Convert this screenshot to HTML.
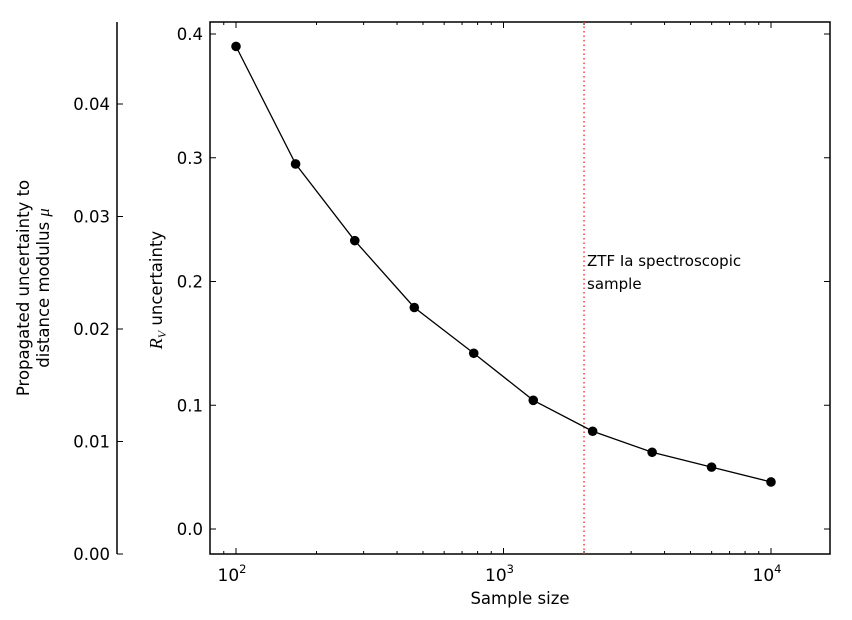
<!DOCTYPE html>
<html><head><meta charset="utf-8"><style>
html,body{margin:0;padding:0;background:#fff;}
svg{display:block;font-family:"DejaVu Sans","Liberation Sans",sans-serif;}
</style></head><body>
<svg id="chart" width="852" height="620" viewBox="0 0 852 620">
<g id="plot"></g>
</svg>
<script>
const sampleSizes=[100,167,278,464,774,1292,2154,3594,5995,10000];
const rvUncertainty=[0.390,0.295,0.233,0.179,0.142,0.104,0.079,0.062,0.050,0.038];
const rvTicks=[0.0,0.1,0.2,0.3,0.4];
const rvTickLabels=["0.0","0.1","0.2","0.3","0.4"];
const muTicks=[0,0.01,0.02,0.03,0.04];
const muTickLabels=["0.00","0.01","0.02","0.03","0.04"];
const xDecades=[2,3,4];
const ztfSample=[2000];

const NS="http://www.w3.org/2000/svg";
const g=document.getElementById('plot');
const L=210,R=830,T=22,B=554;
const x=v=>236+(Math.log10(v)-2)*267.5;
const y=v=>529-v*1237.5;
const ymu=v=>554-v*11250;
function mk(tag,attrs,parent){const e=document.createElementNS(NS,tag);for(const k in attrs)e.setAttribute(k,attrs[k]);(parent||g).appendChild(e);return e;}

const la=mk('g',{});


mk('line',{x1:117,y1:T,x2:117,y2:B,stroke:'#000','stroke-width':1.5},la);
muTicks.forEach((t,i)=>{
 const yy=ymu(t);
 mk('line',{x1:117,y1:yy,x2:123,y2:yy,stroke:'#000'},la);
 const tx=mk('text',{x:110,y:yy+6,'text-anchor':'end','font-size':16.5},la);
 tx.textContent=muTickLabels[i];
 
 
});
const mt=mk('text',{transform:'translate(38,288) rotate(-90)','text-anchor':'middle','font-size':16.5});


mt.innerHTML='<tspan x="0" dy="-9">Propagated uncertainty to</tspan><tspan x="0" dy="20">distance modulus <tspan font-style="italic" font-family="Liberation Serif">μ</tspan></tspan>';

const fr=mk('rect',{x:L,y:T,width:R-L,height:B-T,fill:'none',stroke:'#000','stroke-width':1.5});



rvTicks.forEach((t,i)=>{
 const yy=y(t);
 mk('line',{x1:L,y1:yy,x2:L+6,y2:yy,stroke:'#000'});
 mk('line',{x1:R,y1:yy,x2:R-6,y2:yy,stroke:'#000'});
 const tx=mk('text',{x:L-7,y:yy+6,'text-anchor':'end','font-size':16.5});
 tx.textContent=rvTickLabels[i];
 
 
});
for(let d=1;d<=4;d++){for(let m=1;m<10;m++){
 const v=m*Math.pow(10,d);const xx=x(v);
 if(xx<L||xx>R)continue;
 const len=m===1?6:3;
 mk('line',{x1:xx,y1:B,x2:xx,y2:B-len,stroke:'#000'});
 mk('line',{x1:xx,y1:T,x2:xx,y2:T+len,stroke:'#000'});
}}
xDecades.forEach(d=>{
 const tx=mk('text',{x:x(Math.pow(10,d))-4,y:B+27,'text-anchor':'middle','font-size':17});
 tx.innerHTML='10<tspan font-size="11.5" dy="-8">'+d+'</tspan>';
 
 
});
const xt=mk('text',{x:520,y:604,'text-anchor':'middle','font-size':16.5});
xt.textContent='Sample size';


const yt=mk('text',{transform:'translate(162,290) rotate(-90)','text-anchor':'middle','font-size':16.5});
yt.innerHTML='<tspan font-style="italic" font-family="Liberation Serif" font-size="18">R</tspan><tspan font-style="italic" font-family="Liberation Serif" font-size="12" dy="4">V</tspan><tspan dy="-4"> uncertainty</tspan>';



ztfSample.forEach(v=>{
 const ln=mk('line',{x1:x(v),y1:T,x2:x(v),y2:B,stroke:'#ff3b3b','stroke-width':1.5,'stroke-dasharray':'1.5,3'});
 
 
 const tx=mk('text',{x:x(v)+3,y:266,'font-size':15});
 tx.innerHTML='<tspan x="'+(x(v)+3)+'">ZTF Ia spectroscopic</tspan><tspan x="'+(x(v)+3)+'" dy="23">sample</tspan>';
 
 
});

const pts=sampleSizes.map((s,i)=>x(s)+','+y(rvUncertainty[i])).join(' ');
const pl=mk('polyline',{points:pts,fill:'none',stroke:'#000','stroke-width':1.3});


sampleSizes.forEach((s,i)=>{
 const c=mk('circle',{cx:x(s),cy:y(rvUncertainty[i]),r:4.8,fill:'#000'});
 
 
});
</script>
</body></html>
